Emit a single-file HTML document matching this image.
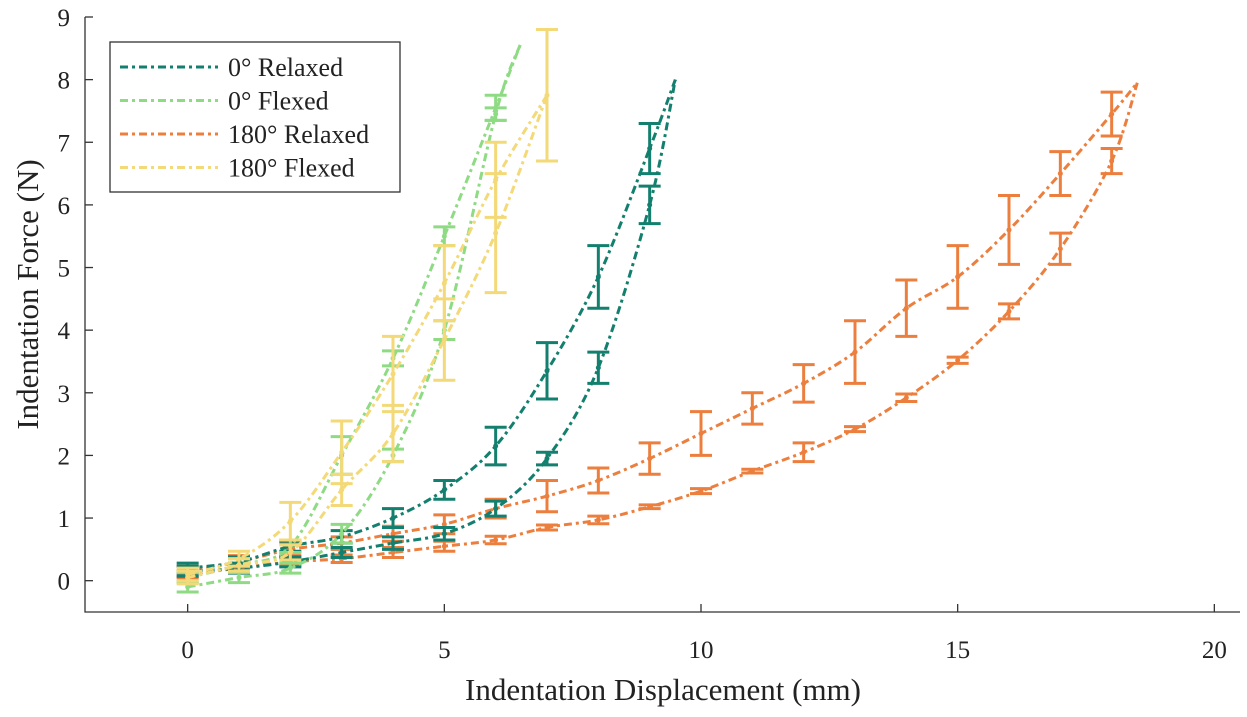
<!DOCTYPE html>
<html><head><meta charset="utf-8"><style>
html,body{margin:0;padding:0;background:#fff;}
svg text{font-family:"Liberation Serif",serif;fill:#222;}
</style></head><body>
<svg id="chart" width="1247" height="712" xmlns="http://www.w3.org/2000/svg">
<g id="plot"></g>
<g id="axes"></g>
</svg>
<script>
const xTicks=[0,5,10,15,20];
const yTicks=[0,1,2,3,4,5,6,7,8,9];
const seriesNames=["0° Relaxed","0° Flexed","180° Relaxed","180° Flexed"];
const seriesColors=["#137f6e","#8edb84","#ec7f3e","#f3d977"];
// 0° Relaxed
const r0UpX=[0,1,2,3,4,5,6,7,8,9,9.5];
const r0UpY=[0.2,0.3,0.55,0.7,1.0,1.45,2.15,3.35,4.85,6.9,8.0];
const r0UpE=[0.08,0.08,0.08,0.1,0.15,0.15,0.3,0.45,0.5,0.4,0];
const r0DnX=[0,1,2,3,4,5,6,7,8,9,9.5];
const r0DnY=[0.15,0.2,0.3,0.45,0.6,0.75,1.15,1.95,3.4,6.0,8.0];
const r0DnE=[0.08,0.08,0.08,0.08,0.1,0.1,0.12,0.1,0.25,0.3,0];
// 0° Flexed
const f0UpX=[0,1,2,3,4,5,6,6.5];
const f0UpY=[0.05,0.25,0.55,2.0,3.55,5.5,7.55,8.6];
const f0UpE=[0.08,0.1,0.1,0.3,0.12,0.15,0.2,0];
const f0DnX=[0,1,2,3,4,5,6,6.5];
const f0DnY=[-0.1,0.05,0.2,0.75,2.0,4.0,7.45,8.6];
const f0DnE=[0.08,0.08,0.08,0.15,0.1,0.15,0.1,0];
// 180° Relaxed
const r180UpX=[0,1,2,3,4,5,6,7,8,9,10,11,12,13,14,15,16,17,18,18.5];
const r180UpY=[0.15,0.3,0.5,0.6,0.75,0.9,1.15,1.35,1.6,1.95,2.35,2.75,3.15,3.65,4.35,4.85,5.6,6.5,7.45,7.95];
const r180UpE=[0.08,0.1,0.1,0.1,0.12,0.15,0.15,0.25,0.2,0.25,0.35,0.25,0.3,0.5,0.45,0.5,0.55,0.35,0.35,0];
const r180DnX=[0,1,2,3,4,5,6,7,8,9,10,11,12,13,14,15,16,17,18,18.5];
const r180DnY=[0.1,0.2,0.3,0.35,0.45,0.55,0.65,0.85,0.97,1.18,1.43,1.75,2.05,2.42,2.92,3.52,4.3,5.3,6.7,7.95];
const r180DnE=[0.06,0.06,0.06,0.06,0.08,0.08,0.06,0.04,0.06,0.03,0.04,0.03,0.15,0.04,0.06,0.05,0.12,0.25,0.2,0];
// 180° Flexed
const f180UpX=[0,1,2,3,4,5,6,7];
const f180UpY=[0.1,0.35,0.95,2.05,3.3,4.75,6.4,7.75];
const f180UpE=[0.1,0.12,0.3,0.5,0.6,0.6,0.6,1.05];
const f180DnX=[0,1,2,3,4,5,6,7];
const f180DnY=[0.05,0.25,0.45,1.45,2.35,3.85,5.55,7.75];
const f180DnE=[0.1,0.1,0.12,0.25,0.45,0.65,0.95,0];

const X0=85,X1=1240,Y0=612,Y1=17,xmin=-2,xmax=20.5,ymin=-0.5,ymax=9;
const sx=v=>X0+(v-xmin)/(xmax-xmin)*(X1-X0);
const sy=v=>Y0-(v-ymin)/(ymax-ymin)*(Y0-Y1);
const NS="http://www.w3.org/2000/svg";
const plot=document.getElementById('plot'),axes=document.getElementById('axes');
function mk(tag,attrs,parent){const e=document.createElementNS(NS,tag);for(const k in attrs)e.setAttribute(k,attrs[k]);parent.appendChild(e);return e;}

let a=mk('path',{d:`M${X0},${Y1}V${Y0}H${X1}`,fill:'none',stroke:'#333','stroke-width':1.3},axes);


xTicks.forEach(t=>{
  const l=mk('line',{x1:sx(t),x2:sx(t),y1:Y0,y2:Y0-8,stroke:'#333','stroke-width':1.3},axes);
  
  
  const tx=mk('text',{x:sx(t),y:Y0+46,'text-anchor':'middle','font-size':25},axes);tx.textContent=t;
  
  
});
yTicks.forEach(t=>{
  const l=mk('line',{x1:X0,x2:X0+8,y1:sy(t),y2:sy(t),stroke:'#333','stroke-width':1.3},axes);
  
  
  const tx=mk('text',{x:X0-15,y:sy(t)+9,'text-anchor':'end','font-size':25},axes);tx.textContent=t;
  
  
});
let xt=mk('text',{x:663,y:700,'text-anchor':'middle','font-size':31},axes);xt.textContent='Indentation Displacement (mm)';


let yt=mk('text',{x:0,y:0,'text-anchor':'middle','font-size':31,transform:`translate(38,${(Y0+Y1)/2-20}) rotate(-90)`},axes);yt.textContent='Indentation Force (N)';



function drawSeries(xs,ys,es,color,name){
  const g=mk('g',{},plot);
  
  
  const pts=xs.map((x,i)=>[sx(x),sy(ys[i])]);
  let d='M'+pts[0][0]+','+pts[0][1];
  for(let i=0;i<pts.length-1;i++){
    const p0=pts[Math.max(0,i-1)],p1=pts[i],p2=pts[i+1],p3=pts[Math.min(pts.length-1,i+2)];
    const c1=[p1[0]+(p2[0]-p0[0])/6,p1[1]+(p2[1]-p0[1])/6],c2=[p2[0]-(p3[0]-p1[0])/6,p2[1]-(p3[1]-p1[1])/6];
    d+=`C${c1[0]},${c1[1]} ${c2[0]},${c2[1]} ${p2[0]},${p2[1]}`;
  }
  const ln=mk('path',{d,fill:'none',stroke:color,'stroke-width':3,'stroke-dasharray':'8 4 3 4'},g);
  
  
  xs.forEach((x,i)=>{
    if(!es[i])return;
    const cx=sx(x),t=sy(ys[i]+es[i]),b=sy(ys[i]-es[i]);
    const eb=mk('path',{d:`M${cx-11},${t}H${cx+11}M${cx},${t}V${b}M${cx-11},${b}H${cx+11}`,stroke:color,'stroke-width':3,fill:'none'},g);
    
    
    const m=mk('circle',{cx,cy:sy(ys[i]),r:2.5,fill:color},g);
    
    
  });
}
drawSeries(r180UpX,r180UpY,r180UpE,seriesColors[2],'relaxed-180-loading');
drawSeries(r180DnX,r180DnY,r180DnE,seriesColors[2],'relaxed-180-unloading');
drawSeries(r0UpX,r0UpY,r0UpE,seriesColors[0],'relaxed-0-loading');
drawSeries(r0DnX,r0DnY,r0DnE,seriesColors[0],'relaxed-0-unloading');
drawSeries(f0UpX,f0UpY,f0UpE,seriesColors[1],'flexed-0-loading');
drawSeries(f0DnX,f0DnY,f0DnE,seriesColors[1],'flexed-0-unloading');
drawSeries(f180UpX,f180UpY,f180UpE,seriesColors[3],'flexed-180-loading');
drawSeries(f180DnX,f180DnY,f180DnE,seriesColors[3],'flexed-180-unloading');

const lg=mk('g',{},axes);


const lb=mk('rect',{x:110,y:42,width:290,height:150,fill:'#fff',stroke:'#333','stroke-width':1.3},lg);


seriesNames.forEach((n,i)=>{
  const y=67+i*33.5;
  const l=mk('line',{x1:120,x2:218,y1:y,y2:y,stroke:seriesColors[i],'stroke-width':3,'stroke-dasharray':'8 4 3 4'},lg);
  
  
  const t=mk('text',{x:228,y:y+9,'font-size':26},lg);t.textContent=n;
  
  
});
</script>
</body></html>
